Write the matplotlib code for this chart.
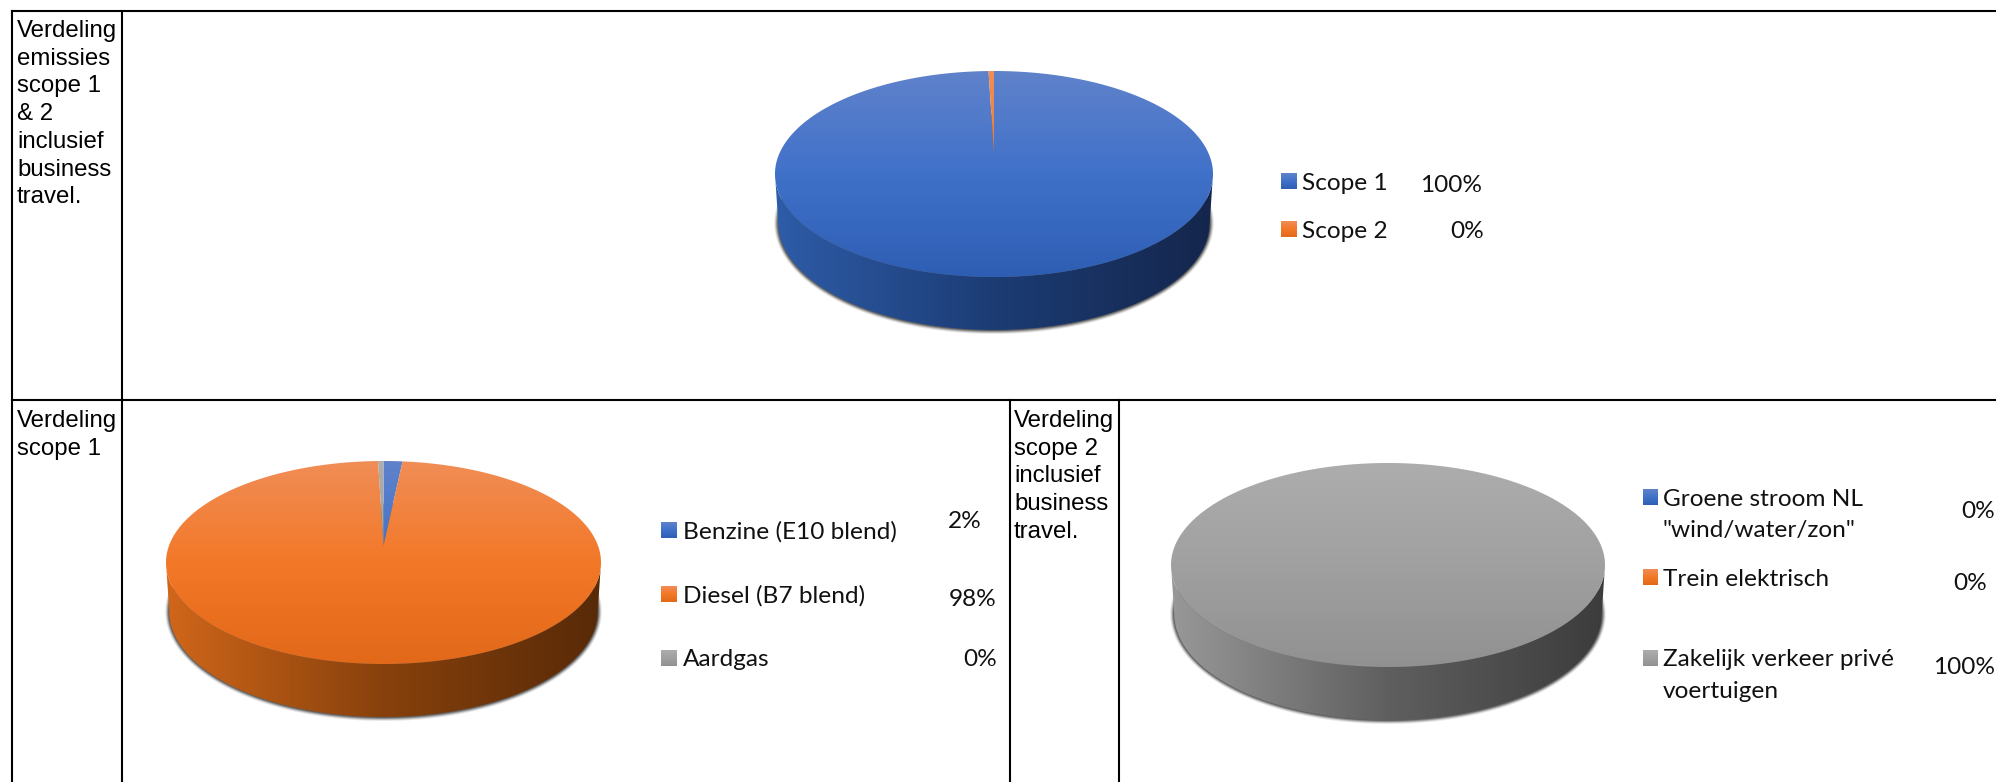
import matplotlib
matplotlib.use('Agg')
import matplotlib.pyplot as plt
from matplotlib.patches import Polygon
import numpy as np

# values (percent of pie, shown label)
scope_names = ['Scope 1', 'Scope 2']
scope_values = [99.6, 0.4]
scope_labels = ['100%', '0%']

scope1_names = ['Benzine (E10 blend)', 'Diesel (B7 blend)', 'Aardgas']
scope1_values = [1.4, 98.2, 0.4]
scope1_labels = ['2%', '98%', '0%']

scope2_names = ['Groene stroom NL\n"wind/water/zon"', 'Trein elektrisch', 'Zakelijk verkeer privé\nvoertuigen']
scope2_values = [0, 0, 100]
scope2_labels = ['0%', '0%', '100%']

cell_titles = ['Verdeling\nemissies\nscope 1\n& 2\ninclusief\nbusiness\ntravel.',
               'Verdeling\nscope 1',
               'Verdeling\nscope 2\ninclusief\nbusiness\ntravel.']

# top face gradient (top, middle, bottom) and side gradient (left, middle, right)
top_colors = [[(96, 130, 203), (64, 113, 201), (46, 94, 180)],
              [(240, 141, 86), (243, 120, 40), (226, 105, 25)],
              [(173, 173, 173), (160, 160, 160), (145, 145, 145)]]
side_colors = [[(46, 92, 168), (28, 60, 116), (20, 38, 76)],
               [(208, 102, 26), (135, 65, 12), (88, 42, 8)],
               [(152, 152, 152), (95, 95, 95), (60, 60, 60)]]

legend_size = 17.6


def gradient(colors, vertical):
    arr = np.array(colors, dtype=float) / 255
    pos = np.linspace(0, 1, 256)
    grad = np.stack([np.interp(pos, [0, 0.5, 1], arr[:, i]) for i in range(3)], axis=-1)
    if vertical:
        return grad[:, None, :]
    return grad[None, :, :]


def fill_gradient(ax, points, colors, box, vertical):
    x0, x1, y0, y1 = box
    im = ax.imshow(gradient(colors, vertical), extent=(x0, x1, y1, y0), aspect='auto',
                   interpolation='bilinear', zorder=3)
    clip = Polygon(points, closed=True, transform=ax.transData, fc='none', ec='none')
    im.set_clip_path(clip)


def pie3d(ax, values, cx, cy, rx, ry, depth, apex):
    t = np.radians(np.linspace(0, 360, 721))
    # soft shadow round the side
    low_rx = rx * 0.985
    for grow, alpha in [(4.0, 0.12), (3.0, 0.22), (2.0, 0.38), (1.0, 0.55)]:
        xs = cx + (low_rx + grow) * np.sin(t)
        ys = cy + depth - 4 + (ry + 4 + grow) * -np.cos(t)
        ax.fill(xs, ys, color='#3c3c3c', alpha=alpha, lw=0, zorder=2)

    box_top = (cx - rx, cx + rx, cy - ry, cy + ry)
    box_side = (cx - rx, cx + rx, cy, cy + ry + depth)
    total = sum(values)
    start = 0.0
    for i, v in enumerate(values):
        if v == 0:
            continue
        end = start + 360.0 * v / total
        # side wall, only the front half can be seen
        a0 = max(start, 90.0)
        a1 = min(end, 270.0)
        if a1 > a0:
            ang = np.radians(np.linspace(a0, a1, 361))
            upper = np.column_stack([cx + rx * np.sin(ang), cy - ry * np.cos(ang)])
            lower = np.column_stack([cx + low_rx * np.sin(ang), cy + depth - 4 - (ry + 4) * np.cos(ang)])
            fill_gradient(ax, np.vstack([upper, lower[::-1]]), side_colors[i], box_side, False)
        # top face
        ang = np.radians(np.linspace(start, end, max(int(end - start) * 2, 8)))
        rim = np.column_stack([cx + rx * np.sin(ang), cy - ry * np.cos(ang)])
        pts = np.vstack([[cx, cy - apex], rim])
        fill_gradient(ax, pts, top_colors[i], box_top, True)
        start = end


def legend(ax, names, labels, swatch_x, text_x, rows, value_pos):
    for i, name in enumerate(names):
        y = rows[i]
        fill_gradient(ax, [(swatch_x[0], y - 8), (swatch_x[1], y - 8), (swatch_x[1], y + 8), (swatch_x[0], y + 8)],
                      top_colors[i], (swatch_x[0], swatch_x[1], y - 8, y + 8), True)
        for j, line in enumerate(name.split('\n')):
            ax.text(text_x, y + 2 + j * 31.5, line, fontsize=legend_size, family='Lato', color='#111111',
                    va='center', ha='left', zorder=5)
        ax.text(value_pos[i][0], value_pos[i][1], labels[i], fontsize=legend_size, family='Lato',
                color='#111111', va='center', ha='right', zorder=5)


def cell_text(ax, text, x, y):
    for i, line in enumerate(text.split('\n')):
        ax.text(x, y + i * 27.7, line, fontsize=17.3, family='Liberation Sans', color='black',
                va='baseline', ha='left', zorder=5)


def main():
    fig = plt.figure(figsize=(19.96, 7.82), dpi=100)
    ax = fig.add_axes([0, 0, 1, 1])

    # table grid
    ax.plot([12.5, 1996], [11, 11], color='black', lw=1.5, zorder=4)
    ax.plot([12.5, 1996], [399.5, 399.5], color='black', lw=1.5, zorder=4)
    for x, y0 in [(12.5, 11), (122, 11), (1010, 399.5), (1119, 399.5)]:
        ax.plot([x, x], [y0, 782], color='black', lw=1.5, zorder=4)

    cell_text(ax, cell_titles[0], 17, 37)
    cell_text(ax, cell_titles[1], 17, 427)
    cell_text(ax, cell_titles[2], 1014, 427)

    pie3d(ax, scope_values, 994, 174, 219, 103, 53, 22)
    pie3d(ax, scope1_values, 383.5, 562.5, 217.5, 101.5, 53, 17)
    pie3d(ax, scope2_values, 1388, 565, 217, 102, 53, 17)

    legend(ax, scope_names, scope_labels, (1281, 1297), 1302, [181, 229], [(1482, 185), (1484, 231)])
    legend(ax, scope1_names, scope1_labels, (661, 677), 683, [530, 594, 658], [(982, 521), (997, 599), (997, 660)])
    legend(ax, scope2_names, scope2_labels, (1643, 1658), 1663, [497, 577, 658], [(1995, 511), (1987, 584), (1995, 667)])

    ax.set_xlim(0, 1996)
    ax.set_ylim(782, 0)
    ax.axis('off')
    fig.savefig('out.png', dpi=100, facecolor='white')


if __name__ == '__main__':
    main()
